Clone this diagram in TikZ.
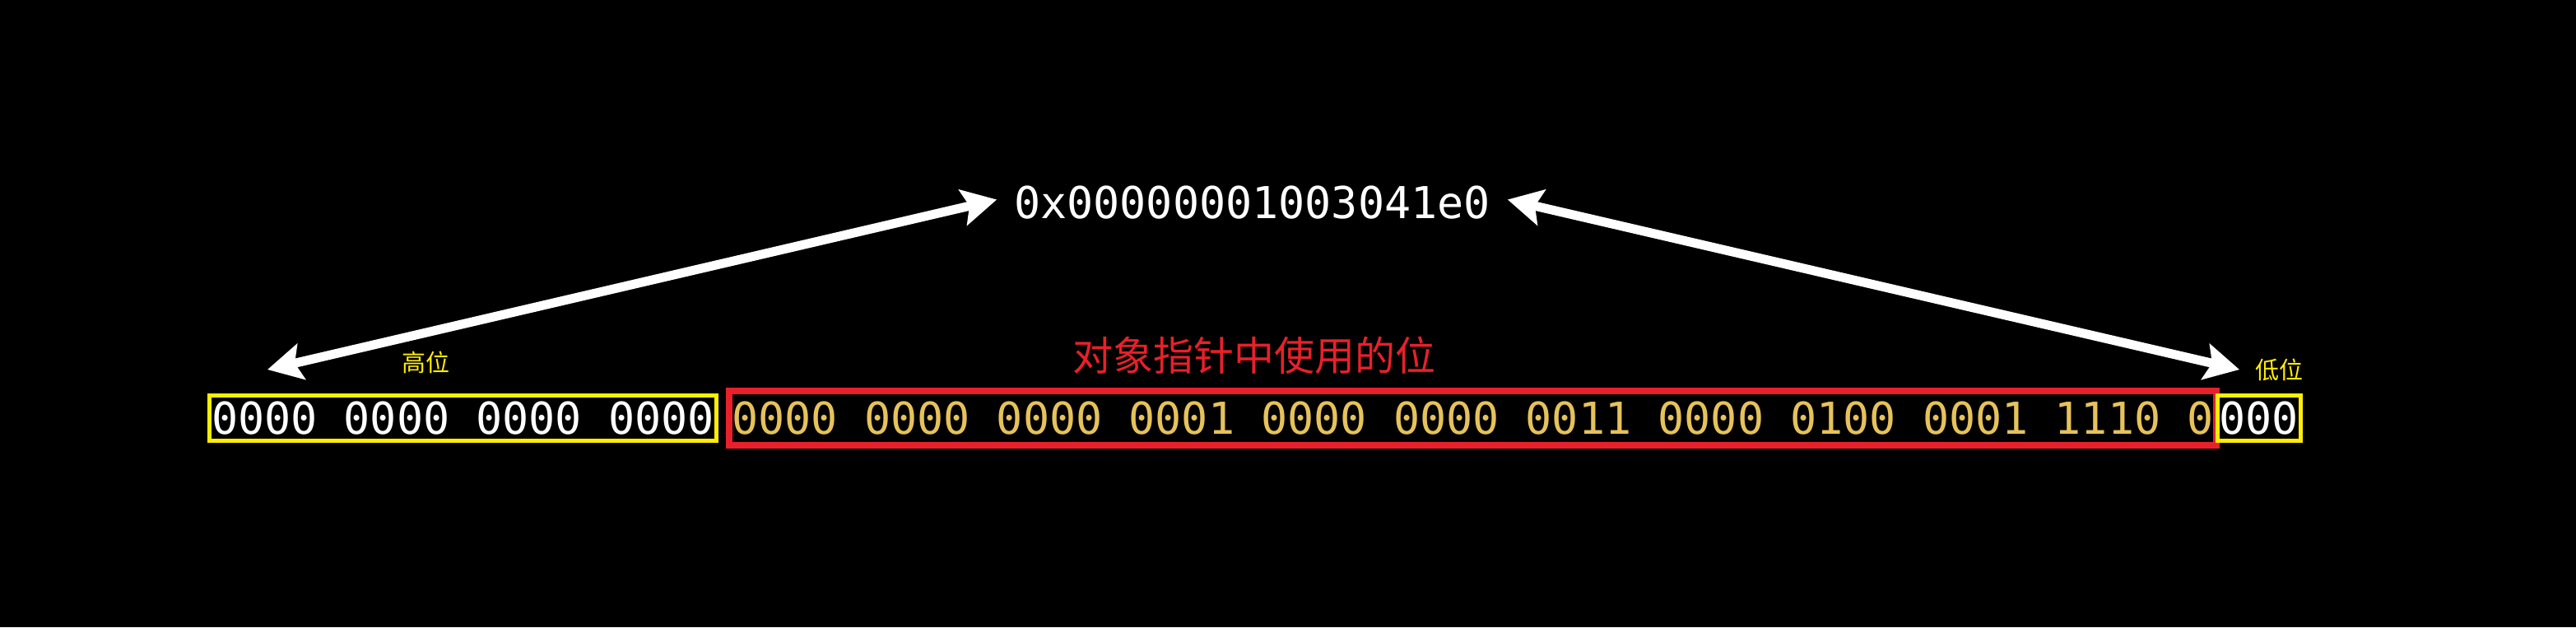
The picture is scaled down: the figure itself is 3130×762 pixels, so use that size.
\documentclass[tikz,border=0pt]{standalone}
\usepackage{fontspec}
\newfontfamily\bitsfont{DejaVu Sans Mono}
\newfontfamily\cjkfont{Noto Sans CJK SC}
\usetikzlibrary{positioning,arrows.meta}
\definecolor{cYel}{HTML}{FFEE00}
\definecolor{cRed}{HTML}{E8202A}
\definecolor{cGold}{HTML}{E6C25A}
\tikzset{
  bits/.style={font=\bitsfont\fontsize{26.7pt}{30pt}\selectfont, inner ysep=0pt, text=white},
  hibox/.style={bits, draw=cYel, line width=2.5pt, inner xsep=1.5pt, minimum height=27.5pt},
  usedbox/.style={bits, draw=cRed, line width=4pt, inner xsep=1.5pt, minimum height=33pt, text=cGold},
  lbl/.style={font=\cjkfont\fontsize{14.5pt}{16pt}\selectfont, text=cYel, inner sep=0pt},
  ar/.style={{Stealth[length=21pt,width=22pt,inset=4pt]}-{Stealth[length=21pt,width=22pt,inset=4pt]},
             line width=5.5pt, white},
}

\begin{document}
\begin{tikzpicture}[x=0.5pt, y=-0.5pt]
    \fill[black] (0,0) rectangle (3130,762);
    \useasboundingbox (0,0) rectangle (3130,762);

    % address
    \node[bits, inner sep=0pt, outer xsep=10.5pt] (hex) at (1521.5,246.5) {0x00000001003041e0};

    % bit row
    \node[hibox] (hiBits) at (562.5,508) {0000 0000 0000 0000};
    \node[usedbox, right=4.5pt of hiBits] (usedBits)
      {0000 0000 0000 0001 0000 0000 0011 0000 0100 0001 1110 0};
    \node[hibox, inner xsep=1.1pt, right=-2.5pt of usedBits] (loBits) {000};

    % labels
    \node[lbl] (lblHigh) at (517,440) {高位};
    \node[lbl] (lblLow) at (2769,449) {低位};
    \node[lbl, font=\cjkfont\fontsize{24.5pt}{27pt}\selectfont, text=cRed] (lblUsed) at (1523.5,431.5)
      {对象指针中使用的位};

    % arrows
    \coordinate (hiTip) at (325,449);
    \coordinate (loTip) at (2721,449);
    \draw[ar] ([yshift=2pt]hex.west) -- (hiTip);
    \draw[ar] ([yshift=2pt]hex.east) -- (loTip);
\end{tikzpicture}
\end{document}
